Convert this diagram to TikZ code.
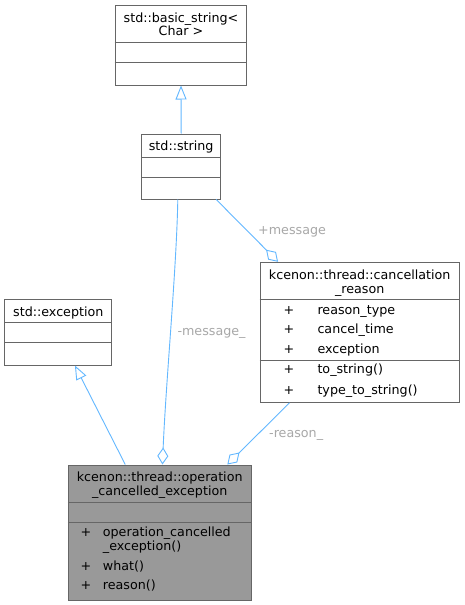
\documentclass[tikz,border=0pt]{standalone}
\usepackage{fontspec}
\setmainfont{DejaVu Sans}
\usetikzlibrary{arrows.meta,calc}
\definecolor{edgec}{HTML}{63B8FF}
\definecolor{bordc}{HTML}{666666}
\definecolor{lblc}{HTML}{A8A8A8}
\definecolor{opfill}{HTML}{999999}
\begin{document}
\begin{tikzpicture}[x=1pt,y=-1pt,
  box/.style={draw=bordc, line width=1pt, fill=white, rectangle, inner sep=0pt},
  divider/.style={draw=bordc, line width=1pt},
  txt/.style={font=\fontsize{12.7}{14}\selectfont, inner sep=0pt, anchor=base},
  row/.style={font=\fontsize{12.7}{14}\selectfont, inner sep=0pt, anchor=base west},
  elabel/.style={font=\fontsize{12.7}{14}\selectfont, inner sep=0pt, anchor=base west, text=lblc},
  conn/.style={draw=edgec, line width=0.9pt},
  inherit/.style={conn, -{Triangle[open, length=14pt, width=11pt]}},
  aggr/.style={conn, -{Diamond[open, length=17pt, width=11pt]}}]
\path[use as bounding box, fill=white] (0,0) rectangle (465,605);

% std::basic_string<Char>
\node[box, minimum width=131.7pt, minimum height=80pt] (basic) at (181,45) {};
\draw[divider] ($(basic.north west)+(0,37.7)$) -- ($(basic.north east)+(0,37.7)$);
\draw[divider] ($(basic.north west)+(0,57.7)$) -- ($(basic.north east)+(0,57.7)$);
\node[txt] (basict1) at (181,22.3) {std::basic\_string<};
\node[txt] (basict2) at (181,35.7) {Char >};

% std::string
\node[box, minimum width=79pt, minimum height=65pt] (string) at (181.2,166.5) {};
\draw[divider] ($(string.north west)+(0,24)$) -- ($(string.north east)+(0,24)$);
\draw[divider] ($(string.north west)+(0,44)$) -- ($(string.north east)+(0,44)$);
\node[txt] (stringt) at (181.2,150.7) {std::string};

% std::exception
\node[box, minimum width=106.7pt, minimum height=65.7pt] (exc) at (58.3,332.2) {};
\draw[divider] ($(exc.north west)+(0,24)$) -- ($(exc.north east)+(0,24)$);
\draw[divider] ($(exc.north west)+(0,44)$) -- ($(exc.north east)+(0,44)$);
\node[txt] (exct) at (58.3,316.7) {std::exception};

% kcenon::thread::cancellation_reason
\node[box, minimum width=199.3pt, minimum height=140pt] (reason) at (359.7,332.3) {};
\draw[divider] ($(reason.north west)+(0,38)$) -- ($(reason.north east)+(0,38)$);
\draw[divider] ($(reason.north west)+(0,98.7)$) -- ($(reason.north east)+(0,98.7)$);
\node[txt] (reasont1) at (359.7,279) {kcenon::thread::cancellation};
\node[txt] (reasont2) at (359.7,293.3) {\_reason};
\node[row] (rp1) at (283.5,314) {+};
\node[row] (rn1) at (317.3,314) {reason\_type};
\node[row] (rp2) at (283.5,333.7) {+};
\node[row] (rn2) at (317.3,333.7) {cancel\_time};
\node[row] (rp3) at (283.5,353.3) {+};
\node[row] (rn3) at (317.3,353.3) {exception};
\node[row] (rp4) at (283.5,373.7) {+};
\node[row] (rn4) at (317.3,373.7) {to\_string()};
\node[row] (rp5) at (283.5,394) {+};
\node[row] (rn5) at (317.3,394) {type\_to\_string()};

% kcenon::thread::operation_cancelled_exception
\node[box, fill=opfill, minimum width=182.7pt, minimum height=135pt] (op) at (159.7,532.5) {};
\draw[divider] ($(op.north west)+(0,38.3)$) -- ($(op.north east)+(0,38.3)$);
\draw[divider] ($(op.north west)+(0,58.3)$) -- ($(op.north east)+(0,58.3)$);
\node[txt] (opt1) at (159.7,481.3) {kcenon::thread::operation};
\node[txt] (opt2) at (159.7,495.7) {\_cancelled\_exception};
\node[row] (op1) at (80.3,536.5) {+};
\node[row] (on1) at (102.7,536.5) {operation\_cancelled};
\node[row] (on1b) at (102.7,550.7) {\_exception()};
\node[row] (op2) at (80.3,570) {+};
\node[row] (on2) at (102.7,570) {what()};
\node[row] (op3) at (80.3,589.7) {+};
\node[row] (on3) at (102.7,589.7) {reason()};

% connectors
\draw[inherit] (string.north) -- (basic.south);
\draw[inherit] ($(op.north west)+(57.4,0)$) -- ($(exc.south west)+(70.5,0)$);
\draw[aggr] ($(string.south west)+(36.6,0)$) .. controls (176.5,270) and (166,380) .. ($(op.north west)+(94.6,0)$);
\draw[aggr] ($(string.south west)+(75,0)$) -- ($(reason.north west)+(18.5,0)$);
\draw[aggr] ($(reason.south west)+(30,0)$) -- ($(op.north west)+(159.5,0)$);

% connector labels
\node[elabel] (lmsg) at (258,234) {+message};
\node[elabel] (lmsg2) at (177.3,335.7) {-message\_};
\node[elabel] (lrsn) at (269,437.3) {-reason\_};
\end{tikzpicture}
\end{document}
